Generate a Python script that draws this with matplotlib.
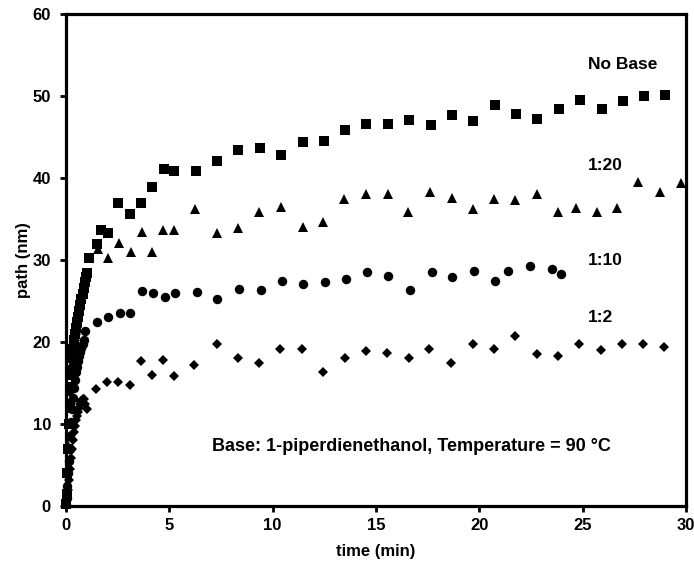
import matplotlib
matplotlib.use("Agg")
import matplotlib.pyplot as plt

# tid (min) og path (nm)
t_nobase = [0.0, 0.03, 0.07, 0.1, 0.13, 0.17, 0.2, 0.25, 0.3, 0.35, 0.4, 0.45, 0.5, 0.55, 0.6, 0.65,
            0.7, 0.75, 0.8, 0.85, 0.9, 0.95, 1.0, 1.11, 1.48, 1.69, 2.02, 2.53, 3.10, 3.63, 4.14, 4.74,
            5.24, 6.27, 7.29, 8.34, 9.39, 10.38, 11.45, 12.48, 13.51, 14.51, 15.56, 16.61, 17.64, 18.66,
            19.71, 20.74, 21.77, 22.77, 23.83, 24.87, 25.92, 26.93, 27.96, 29.0]
y_nobase = [0.3, 1.5, 4.0, 7.0, 10.0, 12.5, 14.5, 16.5, 18.0, 19.2, 20.2, 21.0, 21.7, 22.4, 23.1, 23.8,
            24.5, 25.2, 25.9, 26.6, 27.3, 27.9, 28.4, 30.3, 31.9, 33.7, 33.3, 37.0, 35.6, 37.0, 38.9, 41.1,
            40.9, 40.9, 42.1, 43.4, 43.7, 42.8, 44.4, 44.5, 45.8, 46.6, 46.6, 47.1, 46.5, 47.7,
            46.9, 48.9, 47.8, 47.2, 48.4, 49.5, 48.4, 49.4, 50.0, 50.1]

t_1_20 = [0.0, 0.03, 0.07, 0.1, 0.13, 0.17, 0.2, 0.25, 0.3, 0.35, 0.4, 0.45, 0.5, 0.55, 0.6, 0.65,
          0.7, 0.75, 0.8, 0.85, 0.9, 0.95, 1.53, 2.05, 2.56, 3.14, 3.66, 4.18, 4.68, 5.22, 6.24, 7.32,
          8.34, 9.35, 10.38, 11.45, 12.45, 13.45, 14.51, 15.56, 16.56, 17.61, 18.66, 19.67, 20.71,
          21.74, 22.79, 23.79, 24.66, 25.67, 26.67, 27.69, 28.74, 29.74]
y_1_20 = [0.5, 2.0, 4.5, 7.5, 10.0, 12.0, 14.0, 16.0, 17.5, 18.8, 19.8, 20.7, 21.5, 22.3, 23.0, 23.8,
          24.5, 25.3, 26.0, 26.7, 27.3, 27.9, 31.3, 30.2, 32.1, 31.0, 33.4, 31.0, 33.7, 33.7, 36.2, 33.3,
          33.9, 35.9, 36.5, 34.0, 34.6, 37.4, 38.1, 38.1, 35.9, 38.3, 37.6, 36.2, 37.4,
          37.3, 38.1, 35.9, 36.4, 35.9, 36.4, 39.5, 38.3, 39.4]

t_1_10 = [0.0, 0.03, 0.07, 0.1, 0.13, 0.17, 0.2, 0.25, 0.3, 0.35, 0.4, 0.45, 0.5, 0.55, 0.6, 0.65,
          0.7, 0.75, 0.8, 0.85, 0.92, 1.48, 2.05, 2.61, 3.11, 3.66, 4.19, 4.77, 5.29, 6.32, 7.32, 8.38,
          9.42, 10.43, 11.48, 12.53, 13.55, 14.56, 15.6, 16.64, 17.69, 18.7, 19.74, 20.77, 21.4,
          22.43, 23.5, 23.93]
y_1_10 = [0.2, 1.0, 2.5, 4.0, 5.5, 7.0, 8.5, 10.2, 11.8, 13.2, 14.4, 15.4, 16.3, 17.0, 17.7, 18.3,
          18.8, 19.3, 19.8, 20.3, 21.4, 22.5, 23.0, 23.6, 23.5, 26.2, 26.0, 25.5, 26.0, 26.1, 25.2, 26.5,
          26.3, 27.4, 27.1, 27.3, 27.7, 28.5, 28.0, 26.4, 28.6, 27.9, 28.7, 27.4, 28.7,
          29.3, 28.9, 28.3]

t_1_2 = [0.0, 0.05, 0.1, 0.15, 0.2, 0.25, 0.3, 0.35, 0.4, 0.45, 0.5, 0.55, 0.6, 0.65,
         0.7, 0.75, 0.8, 0.85, 0.9, 1.0, 1.46, 2.0, 2.53, 3.10, 3.63, 4.14, 4.68, 5.22, 6.19, 7.29,
         8.34, 9.35, 10.35, 11.4, 12.45, 13.48, 14.5, 15.55, 16.58, 17.56, 18.63, 19.67, 20.71,
         21.71, 22.77, 23.8, 24.84, 25.87, 26.9, 27.93, 28.95]
y_1_2 = [0.1, 1.0, 2.0, 3.2, 4.5, 5.8, 7.0, 8.0, 9.0, 9.8, 10.5, 11.0, 11.5, 12.0,
         12.4, 12.8, 13.1, 13.0, 12.4, 11.8, 14.3, 15.1, 15.1, 14.8, 17.7, 16.0, 17.8, 15.9, 17.2, 19.7,
         18.1, 17.4, 19.2, 19.2, 16.3, 18.0, 18.9, 18.7, 18.1, 19.2, 17.4, 19.7, 19.1,
         20.7, 18.6, 18.3, 19.8, 19.0, 19.7, 19.7, 19.4]

plt.rcParams["font.family"] = ["Liberation Sans", "DejaVu Sans"]
plt.rcParams["font.weight"] = "bold"

fig = plt.figure(figsize=(6.94, 5.63), dpi=100)
ax = fig.add_axes([0.0951, 0.1012, 0.8934, 0.8739])

ax.plot(t_nobase, y_nobase, "s", color="black", markersize=7.2, markeredgewidth=0)
ax.plot(t_1_20, y_1_20, "^", color="black", markersize=7.8, markeredgewidth=0)
ax.plot(t_1_10, y_1_10, "o", color="black", markersize=6.8, markeredgewidth=0)
ax.plot(t_1_2, y_1_2, "D", color="black", markersize=5.4, markeredgewidth=0)

ax.set_xlim(0, 30)
ax.set_ylim(0, 60)
ax.set_xticks([0, 5, 10, 15, 20, 25, 30])
ax.set_yticks([0, 10, 20, 30, 40, 50, 60])
ax.tick_params(direction="out", length=4.3, width=2, labelsize=12, pad=4)
ax.tick_params(axis="y", pad=6.5)
for side in ax.spines.values():
    side.set_linewidth(2.3)
for line in ax.lines:
    line.set_clip_on(False)

ax.set_xlabel("time (min)", fontsize=12, fontweight="bold", labelpad=8)
ax.set_ylabel("path (nm)", fontsize=12, fontweight="bold", labelpad=1)

# etiketter
ax.text(25.24, 53.9, "No Base", fontsize=12.5, fontweight="bold", va="center")
ax.text(25.24, 41.5, "1:20", fontsize=12.5, fontweight="bold", va="center")
ax.text(25.24, 29.9, "1:10", fontsize=12.5, fontweight="bold", va="center")
ax.text(25.24, 23.0, "1:2", fontsize=12.5, fontweight="bold", va="center")
ax.text(7.05, 7.25, "Base: 1-piperdienethanol, Temperature = 90 °C", fontsize=13,
        fontweight="bold", va="center")

fig.savefig("out.png", dpi=100)
